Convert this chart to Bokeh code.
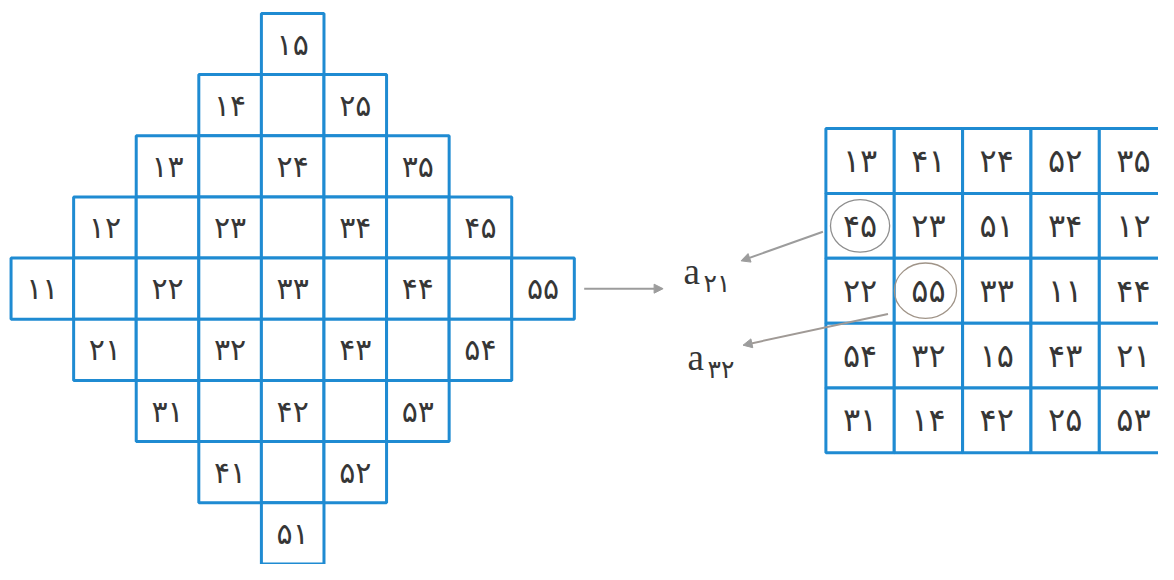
from bokeh.plotting import figure
from bokeh.models import Range1d, Arrow, NormalHead
from bokeh.core.properties import value
from bokeh.embed import file_html
from bokeh.resources import INLINE

# ---- data -------------------------------------------------------------
# diamond (left): labels of the labelled cells, row by row from the top
diamond_rows = [
    ["۱۵"],
    ["۱۴", "۲۵"],
    ["۱۳", "۲۴", "۳۵"],
    ["۱۲", "۲۳", "۳۴", "۴۵"],
    ["۱۱", "۲۲", "۳۳", "۴۴", "۵۵"],
    ["۲۱", "۳۲", "۴۳", "۵۴"],
    ["۳۱", "۴۲", "۵۳"],
    ["۴۱", "۵۲"],
    ["۵۱"],
]
# square (right): 5 x 5 result
square_rows = [
    ["۱۳", "۴۱", "۲۴", "۵۲", "۳۵"],
    ["۴۵", "۲۳", "۵۱", "۳۴", "۱۲"],
    ["۲۲", "۵۵", "۳۳", "۱۱", "۴۴"],
    ["۵۴", "۳۲", "۱۵", "۴۳", "۲۱"],
    ["۳۱", "۱۴", "۴۲", "۲۵", "۵۳"],
]
circled_rows = [1, 2]          # zero-based row of circled entries
circled_cols = [0, 1]          # zero-based column of circled entries
element_letter = ["a", "a"]
element_subscripts = ["۲۱", "۳۲"]

# ---- layout -----------------------------------------------------------
W, H = 1158, 564
VW, VH = 1174, 580            # virtual drawing area, scaled into the figure
BLUE = "#1f8bd2"
TEXT = "#363636"
GRAY = "#9c9c9c"

DX0, DCW, DY0, DRH = 10.7, 63.45, 13.3, 62.9     # diamond grid
SX0, SCW, SY0, SRH = 836.8, 69.3, 131.7, 66.7     # square grid

p = figure(width=W, height=H, x_range=Range1d(0, VW), y_range=Range1d(VH, 0),
           output_backend="svg", toolbar_location=None, min_border=0,
           x_axis_location=None, y_axis_location=None)
p.grid.visible = False
p.outline_line_color = None
p.background_fill_color = "white"
p.border_fill_color = "white"

# diamond cells
cx, cy, lx, ly, lt = [], [], [], [], []
n = len(diamond_rows)
mid = n // 2
for r, labels in enumerate(diamond_rows):
    k = abs(r - mid)
    for c in range(k, n - k):
        cx.append(DX0 + (c + 0.5) * DCW)
        cy.append(DY0 + (r + 0.5) * DRH)
    for idx, lab in enumerate(labels):
        lx.append(DX0 + (k + 2 * idx + 0.5) * DCW)
        ly.append(DY0 + (r + 0.5) * DRH)
        lt.append(lab)

p.rect(x=cx, y=cy, width=DCW, height=DRH, fill_color="white",
       line_color=BLUE, line_width=3)
p.text(x=lx, y=ly, text=lt, text_align="center", text_baseline="middle",
       text_font=value("DejaVu Sans"), text_font_size="30px", text_color=TEXT)

# square cells
sx, sy, st = [], [], []
for r, row in enumerate(square_rows):
    for c, lab in enumerate(row):
        sx.append(SX0 + (c + 0.5) * SCW)
        sy.append(SY0 + (r + 0.5) * SRH)
        st.append(lab)
p.rect(x=sx, y=sy, width=SCW, height=SRH, fill_color="white",
       line_color=BLUE, line_width=3)
p.text(x=sx, y=sy, text=st, text_align="center", text_baseline="middle",
       text_font=value("DejaVu Sans"), text_font_size="32px", text_color=TEXT)

# circles around selected elements
ex = [SX0 + (c + 0.5) * SCW - 3 * c for c in circled_cols]
ey = [SY0 + (r + 0.5) * SRH for r in circled_rows]
p.ellipse(x=ex, y=ey, width=[60, 63], height=[54, 57], fill_color=None,
          line_color=["#8f8f8f", "#a09488"], line_width=1.3)

# element labels a_ij
ax_ = [SX0 - 136, SX0 - 132]
ay_ = [ey[0] + 47, ey[1] + 69]
p.text(x=ax_, y=ay_, text=element_letter, text_align="center",
       text_baseline="alphabetic", text_font=value("Liberation Serif"),
       text_font_size="37px", text_color=TEXT)
p.text(x=[a + 12 for a in ax_], y=[a + 12 for a in ay_], text=element_subscripts,
       text_align="left", text_baseline="alphabetic",
       text_font=value("DejaVu Sans"), text_font_size="25px", text_color=TEXT)

# arrows
mid_y = DY0 + (mid + 0.5) * DRH
p.add_layout(Arrow(x_start=DX0 + n * DCW + 10, y_start=mid_y, x_end=DX0 + n * DCW + 90, y_end=mid_y,
                   line_color=GRAY, line_width=2,
                   end=NormalHead(size=9, fill_color=GRAY, line_color=GRAY)))
p.add_layout(Arrow(x_start=SX0 - 3, y_start=ey[0] + 6, x_end=SX0 - 86, y_end=ey[0] + 36,
                   line_color=GRAY, line_width=2,
                   end=NormalHead(size=9, fill_color=GRAY, line_color=GRAY)))
p.add_layout(Arrow(x_start=ex[1] - 38, y_start=ey[1] + 24, x_end=SX0 - 84, y_end=ey[1] + 56,
                   line_color="#a09a96", line_width=2,
                   end=NormalHead(size=9, fill_color=GRAY, line_color=GRAY)))

open("out.html", "w", encoding="utf-8").write(file_html(p, INLINE))
